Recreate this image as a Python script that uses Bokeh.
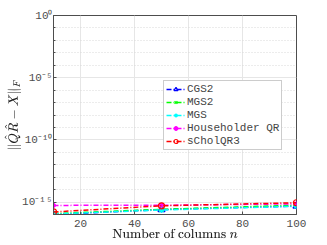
from bokeh.plotting import figure
from bokeh.models import FixedTicker, Legend, LegendItem, Range1d
from bokeh.embed import file_html
from bokeh.resources import INLINE

n_cols = [10, 50, 100]
cgs2 = [1.0e-16, 2.5e-16, 4.7e-16]
mgs2 = [1.2e-16, 2.6e-16, 5.6e-16]
mgs = [1.1e-16, 2.3e-16, 4.6e-16]
householder = [5.4e-16, 5.5e-16, 7.2e-16]
scholqr3 = [1.6e-16, 5.0e-16, 8.8e-16]

x_ticks = [20, 40, 60, 80, 100]
x_tick_labels = ["20", "40", "60", "80", "100"]
y_ticks = [1e-15, 1e-10, 1e-5, 1e0]
y_tick_labels = ["10\u207b\u00b9\u2075", "10\u207b\u00b9\u2070", "10\u207b\u2075", "10\u2070"]
y_minor = [10.0 ** (-k) for k in range(0, 17)]

MONO = "Liberation Mono"
AX = "#4d4d4d"

p = figure(output_backend="svg", toolbar_location=None,
           y_axis_type="log", x_range=Range1d(10, 100), y_range=Range1d(1e-16, 1e0),
           min_border_left=40, min_border_right=15, min_border_top=15, min_border_bottom=20,
           frame_width=243, frame_height=199)
p.outline_line_color = AX
p.outline_line_width = 1
p.background_fill_color = "white"
p.border_fill_color = "white"

p.xaxis.ticker = FixedTicker(ticks=x_ticks)
p.xaxis.major_label_overrides = dict(zip(x_ticks, x_tick_labels))
p.yaxis.ticker = FixedTicker(ticks=y_ticks, minor_ticks=y_minor)
p.yaxis.major_label_overrides = dict(zip(y_ticks, y_tick_labels))
for ax in (p.xaxis[0], p.yaxis[0]):
    ax.axis_line_color = AX
    ax.major_tick_line_color = AX
    ax.minor_tick_line_color = AX
    ax.major_tick_in = 3
    ax.major_tick_out = 0
    ax.minor_tick_in = 2
    ax.minor_tick_out = 0
    ax.major_label_text_font = MONO
    ax.major_label_text_font_size = "11px"
    ax.major_label_text_color = AX
    ax.axis_label_text_color = "#222222"
    ax.axis_label_text_font_style = "normal"
p.xaxis.axis_label = r"$$\text{Number of columns } n$$"
p.xaxis.axis_label_text_font_size = "11px"
p.xaxis.axis_label_standoff = -1
p.xaxis.major_label_standoff = 5
p.yaxis.axis_label = r"$$\|\hat{Q}\hat{R}-X\|_F$$"
p.yaxis.axis_label_text_font_size = "11px"
p.yaxis.axis_label_standoff = -2
p.yaxis.major_label_standoff = 1
p.xaxis.minor_tick_line_color = None

p.xgrid.grid_line_color = "#e6e6e6"
p.ygrid.grid_line_color = "#e6e6e6"
p.ygrid.minor_grid_line_color = "#d9d9d9"
p.ygrid.minor_grid_line_dash = "1 2"

dash = "5 2 1 2"
lw = 1.5
items = []
r1 = p.line(n_cols, cgs2, line_color="blue", line_width=lw, line_dash=dash)
m1 = p.scatter(n_cols, cgs2, marker="triangle", size=7, line_color="blue", fill_alpha=0, line_width=1.2)
items.append(LegendItem(label="CGS2", renderers=[r1, m1]))
r2 = p.line(n_cols, mgs2, line_color="#00ff00", line_width=lw, line_dash=dash)
m2 = p.scatter(n_cols, mgs2, marker="x", size=6, line_color="#00ff00", line_width=1.2)
items.append(LegendItem(label="MGS2", renderers=[r2, m2]))
r3 = p.line(n_cols, mgs, line_color="cyan", line_width=lw, line_dash=dash)
m3 = p.scatter(n_cols, mgs, marker="asterisk", size=6, line_color="cyan", line_width=1.2)
items.append(LegendItem(label="MGS", renderers=[r3, m3]))
r4 = p.line(n_cols, householder, line_color="magenta", line_width=lw, line_dash=dash)
m4 = p.scatter(n_cols, householder, marker="circle", size=4, line_color="magenta", fill_color="magenta")
items.append(LegendItem(label="Householder QR", renderers=[r4, m4]))
r5 = p.line(n_cols, scholqr3, line_color="red", line_width=lw, line_dash=dash)
m5 = p.scatter(n_cols, scholqr3, marker="circle", size=6, line_color="red", fill_alpha=0, line_width=1.2)
items.append(LegendItem(label="sCholQR3", renderers=[r5, m5]))

legend = Legend(items=items, location=(110, 64), label_text_font=MONO, label_text_font_size="11px",
                label_height=10, glyph_height=10, glyph_width=19, spacing=1, padding=2, margin=0,
                label_standoff=2, border_line_color="#999999", background_fill_alpha=1)
p.add_layout(legend, "center")

open("out.html", "w").write(file_html(p, INLINE))
